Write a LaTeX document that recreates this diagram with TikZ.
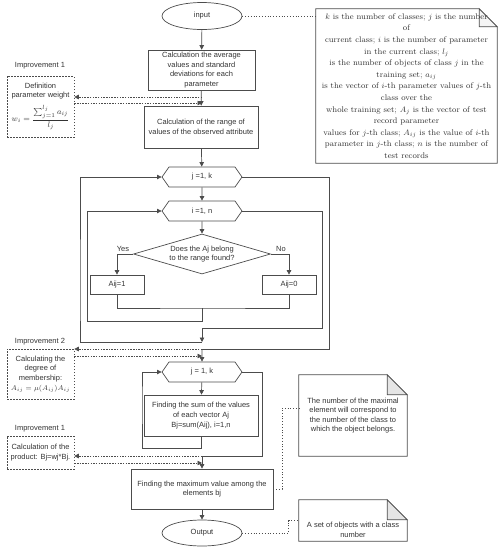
\documentclass[tikz,border=0pt]{standalone}
\usepackage{amsmath}
\usepackage{fontspec}
\newfontfamily\chartfont{Liberation Sans}
\usepackage{tikz}
\usetikzlibrary{shapes.geometric,shapes.symbols,arrows.meta,backgrounds}

\newcommand\chartsize{\chartfont\fontsize{7.5}{9.6}\selectfont}
% folded corner round a note node
\newcommand\foldnote[3]{%
  \begin{pgfonlayer}{background}
  \draw[line] (#1.south west) -- (#1.north west) -- ([xshift=-#2]#1.north east)
    -- ([yshift=-#2]#1.north east) -- (#1.south east) -- cycle;
  \filldraw[line, fill=#3] ([xshift=-#2]#1.north east) -- ([xshift=-#2,yshift=-#2]#1.north east)
    -- ([yshift=-#2]#1.north east) -- cycle;
  \end{pgfonlayer}}

\tikzset{
  line/.style={draw=black!70, line width=0.7pt},
  blockbox/.style={line, rectangle, align=center, inner sep=1pt, font=\chartsize, text=black!80},
  terminal/.style={line, ellipse, minimum width=80pt, minimum height=27pt, inner sep=0pt, font=\chartsize, text=black!80},
  loophex/.style={line, signal, signal to=west and east, signal pointer angle=110,
    minimum width=80pt, minimum height=20pt, inner sep=0pt, font=\chartsize, text=black!80},
  decision/.style={line, diamond, aspect=3.4, minimum width=137pt, minimum height=40pt,
    inner sep=0pt, align=center, font=\chartsize, text=black!80},
  impbox/.style={draw=black!70, line width=0.6pt, dash pattern=on 1.5pt off 1.5pt, rectangle,
    align=center, inner sep=1pt, font=\chartsize, text=black!80},
  implabel/.style={font=\chartsize, text=black!80},
  notetext/.style={align=center, inner sep=0pt, text=black!80},
  flow/.style={line, -{Triangle[length=4.5pt,width=4.5pt]}},
  plain/.style={line},
  dashflow/.style={draw=black!70, line width=0.6pt, dash pattern=on 1.5pt off 1.2pt,
    -{Triangle[length=4.5pt,width=4.5pt]}},
  dotlink/.style={draw=black!70, line width=0.7pt, dash pattern=on 0.8pt off 2pt},
}

\begin{document}
\begin{tikzpicture}[x=1pt,y=-1pt]
\useasboundingbox (0,0) rectangle (499,550);

% main column
\node[terminal] (input) at (202,16) {input};
\node[blockbox, minimum width=107pt, minimum height=40pt] (avg) at (201.5,70)
  {Calculation the average\\values and standard\\deviations for each\\parameter};
\node[blockbox, minimum width=114pt, minimum height=42pt] (range) at (201,127)
  {Calculation of the range of\\values of the observed attribute};
\node[loophex] (loopj) at (202,177) {j =1, k};
\node[loophex] (loopi) at (202,211) {i =1, n};
\node[decision] (belong) at (202,254) {Does the Aj belong\\to the range found?};
\node[blockbox, minimum width=54pt, minimum height=19pt] (aone) at (117,284.5) {Aij=1};
\node[blockbox, minimum width=54pt, minimum height=19pt] (azero) at (289,284.5) {Aij=0};
\node[loophex] (loopjj) at (202,372) {j = 1, k};
\node[blockbox, minimum width=114pt, minimum height=41pt] (sum) at (201,415.5)
  {Finding the sum of the values\\of each vector Aj\\Bj=sum(Aij), i=1,n};
\node[blockbox, minimum width=142pt, minimum height=40pt] (maxval) at (202,489)
  {Finding the maximum value among the\\elements bj};
\node[terminal, minimum height=26pt] (output) at (202,533) {Output};

% improvements
\node[implabel] (impalabel) at (40,66) {Improvement 1};
\node[impbox, minimum width=67pt, minimum height=61pt] (impa) at (40.5,106.5)
  {Definition\\parameter weight\\[5pt] \fontsize{8.5}{10}\selectfont $w_i=\dfrac{\sum_{j=1}^{l_j} a_{ij}}{l_j}$};
\node[implabel] (impblabel) at (40,342) {Improvement 2};
\node[impbox, minimum width=67pt, minimum height=50pt] (impb) at (40.5,374)
  {Calculating the\\degree of\\membership:\\$A_{ij}=\mu(A_{ij})A_{ij}$};
\node[implabel] (impclabel) at (40,429) {Improvement 1};
\node[impbox, minimum width=67pt, minimum height=33pt] (impc) at (40.5,452.5)
  {Calculation of the\\product: Bj=wj*Bj.};

% notes
\node[notetext, minimum width=181pt, minimum height=154pt, font=\fontsize{8.2}{11.6}\selectfont] (notea) at (406.5,86)
  {$k$ is the number of classes; $j$ is the number\\of\\current class; $i$ is the number of parameter\\in the current class; $l_j$\\
   is the number of objects of class $j$ in the\\training set; $a_{ij}$\\is the vector of $i$-th parameter values of $j$-th\\
   class over the\\whole training set; $A_j$ is the vector of test\\record parameter\\values for $j$-th class; $A_{ij}$ is the value of $i$-th\\
   parameter in $j$-th class; $n$ is the number of\\test records};
\node[notetext, minimum width=108pt, minimum height=81pt, font=\chartsize] (noteb) at (353,415.5)
  {The number of the maximal\\element will correspond to\\the number of the class to\\which the object belongs.};
\node[notetext, minimum width=108pt, minimum height=41pt, font=\chartsize] (notec) at (353,520.5)
  {\rule{0pt}{24pt}A set of objects with a class\\number};
\foldnote{notea}{18pt}{black!4}
\foldnote{noteb}{20pt}{black!10}
\foldnote{notec}{20pt}{black!10}

% junctions
\coordinate (ja) at (202,97);
\coordinate (jb) at (202,103);
\coordinate (mergei) at (202,308);
\coordinate (backi) at (87,321);
\coordinate (exiti) at (202,328);
\coordinate (backj) at (202,342);
\coordinate (exitj) at (202,349);
\coordinate (jc) at (202,356);
\coordinate (backjj) at (201,448);
\coordinate (exitjj) at (202,456);
\coordinate (jd) at (202,463);
\coordinate (nb) at (299,408);

% main flow
\draw[flow] (input) -- (avg);
\draw[flow] (avg) -- (range);
\draw[flow] (range) -- (loopj);
\draw[flow] (loopj) -- (loopi);
\draw[flow] (loopi) -- (belong);
\draw[flow] (belong.west) -| (aone.north);
\draw[flow] (belong.east) -| (azero.north);
\node[implabel] (yes) at (123,249) {Yes};
\node[implabel] (no) at (281,249) {No};
\draw[plain] (aone.south) |- (mergei) -| (azero.south);
\draw[flow] (mergei) |- (backi) |- (loopi.west);
\draw[plain] (loopi.east) -| (322,328) -- (exiti);
\draw[flow] (exiti) -- (backj);
\draw[flow] (backj) -| (80,300) |- (loopj.west);
\draw[plain] (loopj.east) -| (329,349) -- (exitj);
\draw[flow] (exitj) -- (loopjj);
\draw[flow] (loopjj) -- (sum);
\draw[flow] (sum.south) -- (backjj) -| (142,400) |- (loopjj.west);
\draw[plain] (loopjj.east) -| (262,456) -- (exitjj);
\draw[flow] (exitjj) -- (maxval);
\draw[flow] (maxval) -- (output);

% improvement links
\draw[dashflow] (ja) -- (ja -| impa.east);
\draw[dashflow] (impa.east |- jb) -- (jb);
\draw[dashflow] (exitj) -- (exitj -| impb.east);
\draw[dashflow] (impb.east |- jc) -- (jc);
\draw[dashflow] (exitjj) -- (exitjj -| impc.east);
\draw[dashflow] (impc.east |- jd) -- (jd);

% note links
\draw[dotlink] (input.east) -- (input.east -| notea.west);
\draw[dotlink] (maxval.east) -| ([xshift=-17pt]nb) -- (nb);
\draw[dotlink] (output.east) -| ([xshift=-10pt]notec.west) -- (notec.west);
\end{tikzpicture}
\end{document}
